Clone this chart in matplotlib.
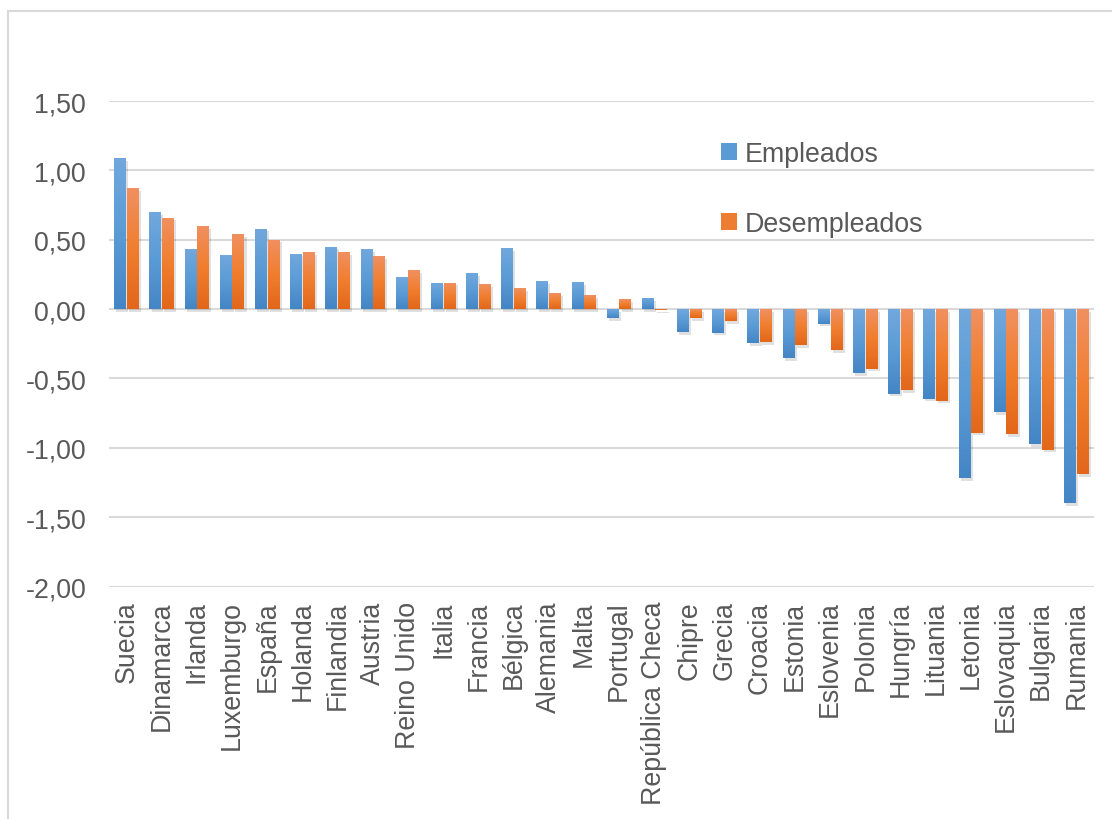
import numpy as np
import matplotlib
matplotlib.use("Agg")
import matplotlib.pyplot as plt
from matplotlib.ticker import FuncFormatter, FixedLocator
from matplotlib.lines import Line2D
from matplotlib.patches import Patch
import matplotlib.patheffects as pe
from matplotlib.colors import LinearSegmentedColormap

paises = ["Suecia", "Dinamarca", "Irlanda", "Luxemburgo", "España", "Holanda",
          "Finlandia", "Austria", "Reino Unido", "Italia", "Francia", "Bélgica",
          "Alemania", "Malta", "Portugal", "República Checa", "Chipre", "Grecia",
          "Croacia", "Estonia", "Eslovenia", "Polonia", "Hungría", "Lituania",
          "Letonia", "Eslovaquia", "Bulgaria", "Rumania"]
empleados = [1.09, 0.70, 0.43, 0.39, 0.58, 0.40, 0.45, 0.43, 0.23, 0.19, 0.26, 0.44,
             0.20, 0.195, -0.065, 0.08, -0.165, -0.17, -0.245, -0.355, -0.105, -0.46,
             -0.61, -0.645, -1.22, -0.745, -0.975, -1.40]
desempleados = [0.87, 0.66, 0.60, 0.54, 0.50, 0.41, 0.41, 0.38, 0.28, 0.19, 0.18, 0.15,
                0.115, 0.10, 0.07, -0.01, -0.065, -0.085, -0.237, -0.26, -0.295, -0.43,
                -0.585, -0.66, -0.89, -0.90, -1.013, -1.19]
yticks = [-2.0, -1.5, -1.0, -0.5, 0.0, 0.5, 1.0, 1.5]
series_names = ["Empleados", "Desempleados"]

plt.rcParams['font.family'] = ['Liberation Sans', 'DejaVu Sans']
TXT = "#595959"
GRID = "#D9D9D9"
FS = 19.3

W, H = 1112, 820
fig = plt.figure(figsize=(W / 100, H / 100), dpi=100)
ax = fig.add_axes([109 / W, 1 - 587.5 / H, 985 / W, (587.5 - 102) / H])

x = np.arange(len(paises))
bw = 0.34
off = 0.18
blue_map = LinearSegmentedColormap.from_list("b", ["#4485C5", "#5B9BD5", "#71A8DD"])
orange_map = LinearSegmentedColormap.from_list("o", ["#E2671A", "#F07E2E", "#F09060"])
grad = np.linspace(0, 1, 64).reshape(-1, 1)

shadow = [pe.SimplePatchShadow(offset=(1.5, -2), shadow_rgbFace="#000000", alpha=0.12), pe.Normal()]
b1 = ax.bar(x - off, empleados, bw, color="#5B9BD5", zorder=3, path_effects=shadow)
b2 = ax.bar(x + off, desempleados, bw, color="#ED7D31", zorder=3, path_effects=shadow)

for bars, cmap in ((b1, blue_map), (b2, orange_map)):
    for p in bars:
        x0, y0 = p.get_x(), p.get_y()
        w, h = p.get_width(), p.get_height()
        lo, hi = min(y0, y0 + h), max(y0, y0 + h)
        if hi - lo < 1e-6:
            continue
        im = ax.imshow(grad, cmap=cmap, aspect="auto", origin="lower",
                       extent=[x0, x0 + w, lo, hi], zorder=4)
        im.set_clip_path(p)

ax.set_xlim(-0.5, len(paises) - 0.5)
ax.set_ylim(-2.0, 1.5)
ax.yaxis.set_major_locator(FixedLocator(yticks))
ax.yaxis.set_major_formatter(FuncFormatter(lambda v, pos: f"{v:.2f}".replace(".", ",")))
ax.grid(axis="y", color=GRID, linewidth=1.5, zorder=0)
ax.set_axisbelow(True)
for s in ax.spines.values():
    s.set_visible(False)
ax.set_xticks(x)
ax.set_xticklabels(paises, rotation=90, va="top", ha="center")
ax.tick_params(axis="both", length=0, labelsize=FS, colors=TXT)
ax.tick_params(axis="y", pad=16.5)
ax.tick_params(axis="x", pad=10)

handles = [Patch(facecolor="#5B9BD5"), Patch(facecolor="#ED7D31")]
leg = ax.legend(handles, series_names, loc="upper left", bbox_to_anchor=(612 / 985, 1 - (142 - 102) / 485.5),
                frameon=False, fontsize=FS, handlelength=0.6, handleheight=0.6, handletextpad=0.3,
                labelspacing=1.65, borderaxespad=0, borderpad=0)
for t in leg.get_texts():
    t.set_color(TXT)

# outer border (left and top only visible)
fig.add_artist(Line2D([8 / W, 8 / W], [0, 1 - 11.5 / H], transform=fig.transFigure, color=GRID, lw=1.5))
fig.add_artist(Line2D([8 / W, 1], [1 - 11.5 / H, 1 - 11.5 / H], transform=fig.transFigure, color=GRID, lw=1.5))

fig.savefig("out.png", dpi=100, facecolor="white")
